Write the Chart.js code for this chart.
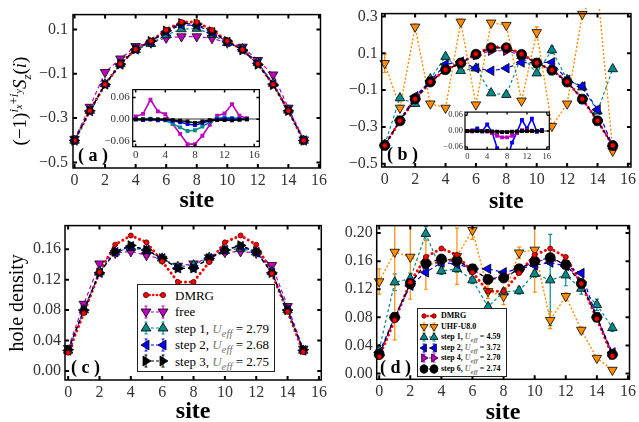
<!DOCTYPE html>
<html>
<head>
<meta charset="utf-8">
<script src="https://cdn.jsdelivr.net/npm/chart.js@4.4.0/dist/chart.umd.min.js"></script>
<style>
body { margin: 0; background: #fff; width: 639px; height: 422px; overflow: hidden; position: relative; font-family: "Liberation Serif", serif; }
canvas { position: absolute; }
.txt { position: absolute; white-space: nowrap; line-height: 1; color: #000; }
.leg { position: absolute; background: #fff; border: 1px solid #222; box-sizing: border-box; }
.row { position: absolute; left: 0; white-space: nowrap; line-height: 1; }
.row svg { position: absolute; left: 0; }
.row span { position: absolute; }
.row i { color: #777; }
</style>
</head>
<body>
<canvas id="cA" width="330" height="212" style="left:0;top:0"></canvas>
<canvas id="cB" width="319" height="212" style="left:320px;top:0"></canvas>
<canvas id="cC" width="330" height="210" style="left:0;top:212px"></canvas>
<canvas id="cD" width="319" height="210" style="left:320px;top:212px"></canvas>
<canvas id="iA" width="170" height="80" style="left:95px;top:80px"></canvas>
<canvas id="iB" width="125" height="55" style="left:430px;top:105px"></canvas>

<div class="txt" style="left:20px;top:101px;font-size:19px;transform:translate(-50%,-50%) rotate(-90deg)">(−1)<sup style="font-size:13px"><i>i</i><sub style="font-size:10px"><i>x</i></sub>+<i>i</i><sub style="font-size:10px"><i>y</i></sub></sup><i>S</i><sub style="font-size:13px"><i>z</i></sub>(<i>i</i>)</div>
<div class="txt" style="left:78px;top:146px;font-size:18px;font-weight:bold">( a )</div>
<div class="txt" style="left:387px;top:145px;font-size:18px;font-weight:bold">( b )</div>
<div class="txt" style="left:71px;top:358px;font-size:18px;font-weight:bold">( c )</div>
<div class="txt" style="left:380px;top:358px;font-size:18px;font-weight:bold">( d )</div>
<div class="leg" id="legC" style="left:137px;top:284px;width:138px;height:88px"></div>
<div class="leg" id="legD" style="left:417px;top:308px;width:90px;height:69px"></div>

<script>
// site index along the ladder
const sites = [0, 1, 2, 3, 4, 5, 6, 7, 8, 9, 10, 11, 12, 13, 14, 15];

// tick labels
const siteTicks = [0, 2, 4, 6, 8, 10, 12, 14, 16];
const insetTicks = [0, 4, 8, 12, 16];
const aTicks = [-0.5, -0.3, -0.1, 0.1];
const bTicks = [-0.5, -0.3, -0.1, 0.1, 0.3];
const cTicks = [0, 0.04, 0.08, 0.12, 0.16];
const dTicks = [0, 0.04, 0.08, 0.12, 0.16, 0.20];
const insetYTicks = [-0.06, 0, 0.06];

// (a) staggered magnetization
const aDMRG  = [-0.401, -0.267, -0.148, -0.055, 0.011, 0.048, 0.097, 0.134, 0.134, 0.097, 0.048, 0.009, -0.055, -0.148, -0.267, -0.401];
const aFree  = [-0.395, -0.250, -0.093, -0.032, 0.024, 0.040, 0.062, 0.068, 0.068, 0.060, 0.040, 0.021, -0.039, -0.104, -0.254, -0.397];
const aStep1 = [-0.401, -0.266, -0.146, -0.055, 0.008, 0.036, 0.075, 0.102, 0.104, 0.077, 0.040, 0.012, -0.050, -0.144, -0.265, -0.401];
const aStep2 = [-0.401, -0.268, -0.148, -0.058, 0.010, 0.044, 0.090, 0.121, 0.118, 0.087, 0.044, 0.009, -0.053, -0.147, -0.267, -0.401];
const aStep3 = [-0.401, -0.267, -0.148, -0.056, 0.011, 0.047, 0.094, 0.128, 0.124, 0.091, 0.047, 0.007, -0.058, -0.150, -0.267, -0.401];
// (a) inset: difference to DMRG
const iaFree  = [0.008, 0.015, 0.054, 0.022, 0.014, -0.013, -0.040, -0.068, -0.068, -0.045, -0.015, 0.010, 0.016, 0.042, 0.010, 0.003];
const iaStep1 = [0.000, 0.001, 0.002, 0.000, -0.003, -0.012, -0.022, -0.032, -0.030, -0.020, -0.008, 0.003, 0.005, 0.004, 0.002, 0.000];
const iaStep2 = [0.000, -0.002, 0.000, -0.003, -0.001, -0.004, -0.008, -0.013, -0.016, -0.010, -0.004, 0.000, 0.002, 0.001, 0.000, 0.001];
const iaStep3 = [0.000, 0.000, 0.000, 0.000, 0.000, -0.002, -0.004, -0.006, -0.010, -0.006, -0.002, -0.002, -0.002, -0.003, -0.001, 0.000];

// (b) staggered magnetization, UHF start
const bDMRG  = [-0.401, -0.267, -0.148, -0.055, 0.011, 0.048, 0.097, 0.134, 0.134, 0.097, 0.048, 0.009, -0.055, -0.148, -0.267, -0.401];
const bUHF   = [0.046, -0.197, 0.244, -0.174, -0.197, 0.271, -0.179, 0.266, 0.253, -0.158, 0.214, -0.296, -0.174, 0.313, 0.450, -0.431];
const bUHFerr = [0.05, 0.015, 0.015, 0.01, 0.01, 0.015, 0.01, 0.01, 0.01, 0.01, 0.03, 0.01, 0.01, 0.01, 0.01, 0.01];
const bStep1 = [-0.395, -0.143, -0.174, -0.039, 0.082, 0.005, 0.019, -0.116, -0.125, 0.086, -0.008, 0.118, -0.044, -0.084, -0.215, 0.015];
const bStep1err = [0.005, 0.01, 0.005, 0.005, 0.005, 0.005, 0.005, 0.005, 0.005, 0.005, 0.005, 0.02, 0.005, 0.005, 0.005, 0.005];
const bStep2 = [-0.400, -0.264, -0.134, -0.050, 0.040, 0.055, 0.019, 0.005, 0.019, 0.050, 0.050, 0.051, -0.044, -0.080, -0.206, -0.405];
const bStep4 = [-0.401, -0.265, -0.148, -0.055, 0.011, 0.045, 0.090, 0.114, 0.114, 0.090, 0.046, 0.008, -0.053, -0.147, -0.266, -0.401];
const bStep6 = [-0.401, -0.267, -0.148, -0.056, 0.011, 0.047, 0.095, 0.130, 0.130, 0.094, 0.047, 0.008, -0.056, -0.149, -0.267, -0.401];
// (b) inset
const ibStep2 = [0.000, 0.002, 0.010, -0.001, 0.025, -0.005, -0.065, -0.125, -0.115, -0.044, -0.004, 0.042, 0.010, 0.047, -0.003, 0.004];
const ibStep4 = [0.000, 0.000, 0.000, 0.000, -0.002, -0.008, -0.018, -0.024, -0.024, -0.018, -0.008, 0.003, 0.002, 0.001, 0.000, 0.000];
const ibStep6 = [0.000, -0.001, 0.000, -0.001, 0.000, -0.002, -0.003, -0.004, -0.004, -0.003, -0.002, 0.000, 0.000, 0.000, 0.000, 0.000];

// (c) hole density
const cDMRG  = [0.024, 0.076, 0.130, 0.166, 0.178, 0.169, 0.144, 0.117, 0.117, 0.143, 0.169, 0.178, 0.166, 0.128, 0.078, 0.025];
const cFree  = [0.030, 0.088, 0.141, 0.155, 0.157, 0.152, 0.147, 0.138, 0.141, 0.149, 0.156, 0.157, 0.155, 0.139, 0.085, 0.029];
const cStep1 = [0.027, 0.080, 0.130, 0.156, 0.162, 0.158, 0.148, 0.137, 0.139, 0.149, 0.158, 0.161, 0.156, 0.130, 0.080, 0.027];
const cStep2 = [0.027, 0.080, 0.129, 0.156, 0.164, 0.159, 0.148, 0.135, 0.135, 0.148, 0.159, 0.164, 0.156, 0.129, 0.080, 0.027];
const cStep3 = [0.028, 0.080, 0.129, 0.157, 0.165, 0.159, 0.148, 0.135, 0.135, 0.148, 0.159, 0.165, 0.157, 0.129, 0.080, 0.028];

// (d) hole density, UHF start
const dDMRG  = [0.024, 0.076, 0.130, 0.166, 0.178, 0.169, 0.144, 0.117, 0.117, 0.143, 0.169, 0.178, 0.166, 0.128, 0.078, 0.025];
const dUHF   = [0.131, 0.173, 0.166, 0.155, 0.158, 0.167, 0.204, 0.117, 0.110, 0.172, 0.176, 0.076, 0.110, 0.062, 0.022, 0.005];
const dUHFerr = [0.018, 0.125, 0.06, 0.035, 0.01, 0.04, 0.013, 0.01, 0.012, 0.008, 0.06, 0.012, 0.005, 0.004, 0.003, 0.003];
const dStep1 = [0.034, 0.130, 0.135, 0.199, 0.146, 0.149, 0.133, 0.095, 0.116, 0.118, 0.142, 0.133, 0.140, 0.121, 0.098, 0.065];
const dStep1err = [0.005, 0.012, 0.008, 0.01, 0.005, 0.005, 0.005, 0.005, 0.005, 0.005, 0.005, 0.065, 0.015, 0.008, 0.008, 0.005];
const dStep2 = [0.030, 0.080, 0.125, 0.144, 0.158, 0.156, 0.149, 0.149, 0.144, 0.149, 0.154, 0.158, 0.153, 0.143, 0.080, 0.030];
const dStep4 = [0.026, 0.080, 0.128, 0.155, 0.160, 0.160, 0.148, 0.135, 0.138, 0.148, 0.160, 0.162, 0.156, 0.130, 0.080, 0.027];
const dStep6 = [0.027, 0.080, 0.128, 0.157, 0.163, 0.161, 0.149, 0.134, 0.136, 0.149, 0.160, 0.165, 0.155, 0.128, 0.080, 0.027];

// legend texts
const legCNames = ['DMRG', 'free', 'step 1, <i>U<sub>eff</sub></i> = 2.79', 'step 2, <i>U<sub>eff</sub></i> = 2.68', 'step 3, <i>U<sub>eff</sub></i> = 2.75'];
const legDNames = ['DMRG', 'UHF-U8.0', 'step 1, <i>U<sub>eff</sub></i> = 4.59', 'step 2, <i>U<sub>eff</sub></i> = 3.72', 'step 4, <i>U<sub>eff</sub></i> = 2.70', 'step 6, <i>U<sub>eff</sub></i> = 2.74'];

Chart.defaults.font.family = '"Liberation Serif", "DejaVu Serif", serif';
Chart.defaults.color = '#333';
Chart.defaults.animation = false;

const ST = {
  dmrg: { color: '#ff0000', edge: '#500000', shape: 'circle', rot: 0, r: 2.5, dash: [0.1, 4.6], lw: 3, cap: 'round', leg: 'circle' },
  free: { color: '#bf00bf', shape: 'triangle', rot: 180, r: 5.5, dash: [4, 3], lw: 1.2, leg: 'down' },
  s1:   { color: '#008b8b', shape: 'triangle', rot: 0, r: 5.5, dash: [3, 2.5], lw: 1.2, leg: 'up' },
  s2:   { color: '#0000ff', shape: 'triangle', rot: -90, r: 5.5, dash: [4, 3], lw: 1.2, leg: 'left' },
  s3:   { color: '#000000', shape: 'triangle', rot: 90, r: 5.5, dash: [4, 3], lw: 1.2, leg: 'right' },
  uhf:  { color: '#ff8c00', shape: 'triangle', rot: 180, r: 5.5, dash: [2, 2], lw: 1.4, leg: 'down' },
  s4:   { color: '#bf00bf', shape: 'triangle', rot: 90, r: 5.5, dash: [4, 3], lw: 1.2, leg: 'right' },
  s6:   { color: '#000000', shape: 'circle', rot: 0, r: 5, dash: [4, 3], lw: 1.2, leg: 'circle' }
};

function ds(vals, st, errs) {
  return {
    data: sites.map((s, i) => ({ x: s, y: vals[i] })),
    errs: errs || null,
    borderColor: st.color,
    backgroundColor: st.color,
    pointBackgroundColor: st.color,
    pointBorderColor: st.edge || '#000',
    pointBorderWidth: 0.8,
    pointStyle: st.shape,
    pointRotation: st.rot,
    pointRadius: st.r,
    borderDash: st.dash,
    borderWidth: st.lw,
    borderCapStyle: st.cap || 'butt',
    clip: 6
  };
}

// DMRG: line underneath everything, dots on top
function dmrgLine(vals) {
  return Object.assign(ds(vals, ST.dmrg), { pointRadius: 0 });
}
function dmrgDots(vals) {
  return Object.assign(ds(vals, ST.dmrg), { showLine: false });
}

function insetDs(vals, color) {
  return {
    data: sites.map((s, i) => ({ x: s, y: vals[i] })),
    borderColor: color,
    backgroundColor: color,
    pointBackgroundColor: color,
    pointBorderColor: color,
    pointStyle: 'rect',
    pointRadius: 1.6,
    borderWidth: 1.6,
    clip: 0
  };
}

// error bars, drawn under the markers
const errorBars = {
  id: 'errorBars',
  beforeDatasetsDraw(chart) {
    const { ctx, chartArea: a, scales: { x, y } } = chart;
    ctx.save();
    ctx.beginPath();
    ctx.rect(a.left, a.top, a.right - a.left, a.bottom - a.top);
    ctx.clip();
    chart.data.datasets.forEach(d => {
      if (!d.errs) return;
      ctx.strokeStyle = d.borderColor;
      ctx.lineWidth = 1.2;
      d.data.forEach((p, i) => {
        const e = d.errs[i];
        if (!e) return;
        const px = x.getPixelForValue(p.x);
        const y1 = y.getPixelForValue(p.y - e), y2 = y.getPixelForValue(p.y + e);
        ctx.beginPath();
        ctx.moveTo(px, y1); ctx.lineTo(px, y2);
        ctx.moveTo(px - 2, y1); ctx.lineTo(px + 2, y1);
        ctx.moveTo(px - 2, y2); ctx.lineTo(px + 2, y2);
        ctx.stroke();
      });
    });
    ctx.restore();
  }
};

// boxed frame with inward ticks on all four sides
const frame = {
  id: 'frame',
  beforeDraw(chart, args, o) {
    if (!o.fill) return;
    const { ctx, chartArea: a } = chart;
    ctx.save();
    ctx.fillStyle = '#fff';
    ctx.fillRect(a.left, a.top, a.right - a.left, a.bottom - a.top);
    ctx.restore();
  },
  afterDatasetsDraw(chart, args, o) {
    const { ctx, chartArea: a, scales: { x, y } } = chart;
    const len = o.len || 4;
    ctx.save();
    ctx.strokeStyle = '#000';
    ctx.lineWidth = o.tw || 2;
    ctx.beginPath();
    x.ticks.forEach(t => {
      const px = x.getPixelForValue(t.value);
      ctx.moveTo(px, a.bottom); ctx.lineTo(px, a.bottom - len);
      ctx.moveTo(px, a.top); ctx.lineTo(px, a.top + len);
    });
    y.ticks.forEach(t => {
      const py = y.getPixelForValue(t.value);
      ctx.moveTo(a.left, py); ctx.lineTo(a.left + len, py);
      ctx.moveTo(a.right, py); ctx.lineTo(a.right - len, py);
    });
    ctx.stroke();
    ctx.lineWidth = o.lw || 1.5;
    ctx.strokeRect(a.left, a.top, a.right - a.left, a.bottom - a.top);
    ctx.restore();
  }
};

function fmt(v, dec) {
  return (v < 0 ? '−' : '') + Math.abs(v).toFixed(dec);
}

function makeChart(id, sets, o) {
  const cv = document.getElementById(id);
  const W = cv.width, H = cv.height, b = o.box;
  return new Chart(cv, {
    type: 'line',
    data: { datasets: sets },
    plugins: [errorBars, frame],
    options: {
      responsive: false,
      layout: { padding: { top: b.T, right: W - b.R, left: 0, bottom: 0 } },
      plugins: {
        legend: { display: false },
        tooltip: { enabled: false },
        frame: { len: o.tick || 4, tw: o.tw || 2, lw: o.lw || 1.5, fill: !!o.fill }
      },
      scales: {
        x: {
          type: 'linear', min: o.x[0], max: o.x[1],
          afterBuildTicks: s => { s.ticks = o.xt.map(v => ({ value: v })); },
          afterFit: s => { s.height = H - b.B; },
          grid: { display: false, drawTicks: false, tickLength: 0 },
          border: { display: false },
          ticks: { font: { size: o.fs }, padding: o.xpad, maxRotation: 0, color: '#333', callback: v => String(v) },
          title: o.xtitle
            ? { display: true, text: o.xtitle, color: '#000', font: { size: 24, weight: 'bold', lineHeight: 1 }, padding: { top: 0, bottom: o.tpad } }
            : { display: false }
        },
        y: {
          type: 'linear', min: o.y[0], max: o.y[1],
          afterBuildTicks: s => { s.ticks = o.yt.map(v => ({ value: v })); },
          afterFit: s => { s.width = b.L; },
          grid: o.zero
            ? { drawTicks: false, tickLength: 0, lineWidth: 2, color: c => (c.tick && c.tick.value === 0 ? '#9a9a9a' : 'rgba(0,0,0,0)') }
            : { display: false, drawTicks: false, tickLength: 0 },
          border: { display: false },
          ticks: { font: { size: o.fs }, padding: o.ypad, color: '#333', callback: v => fmt(v, o.dec) },
          title: o.ytitle
            ? { display: true, text: o.ytitle, color: '#000', font: { size: 20, lineHeight: 1 }, padding: { top: 8, bottom: 0 } }
            : { display: false }
        }
      }
    }
  });
}

makeChart('cA', [dmrgDots(aDMRG), ds(aStep3, ST.s3), ds(aStep2, ST.s2), ds(aStep1, ST.s1), ds(aFree, ST.free), dmrgLine(aDMRG)], {
  box: { L: 73, T: 13, R: 322, B: 168 }, x: [-0.1, 16.1], xt: siteTicks, y: [-0.525, 0.167], yt: aTicks, dec: 1,
  fs: 16, xpad: 3, ypad: 5, xtitle: 'site', tpad: -1
});
makeChart('cB', [dmrgDots(bDMRG), ds(bStep6, ST.s6), ds(bStep4, ST.s4), ds(bStep2, ST.s2), ds(bStep1, ST.s1, bStep1err), ds(bUHF, ST.uhf, bUHFerr), dmrgLine(bDMRG)], {
  box: { L: 61.7, T: 12.7, R: 315, B: 167 }, x: [-0.2, 16.2], xt: siteTicks, y: [-0.518, 0.316], yt: bTicks, dec: 1,
  fs: 16, xpad: 3, ypad: 4, xtitle: 'site', tpad: -2
});
makeChart('cC', [dmrgDots(cDMRG), ds(cStep3, ST.s3), ds(cStep2, ST.s2), ds(cStep1, ST.s1), ds(cFree, ST.free), dmrgLine(cDMRG)], {
  box: { L: 65, T: 8.7, R: 322, B: 168 }, x: [-0.2, 16.15], xt: siteTicks, y: [-0.0118, 0.191], yt: cTicks, dec: 2,
  fs: 16, xpad: 3, ypad: 4, xtitle: 'site', tpad: -2, ytitle: 'hole density'
});
makeChart('cD', [dmrgDots(dDMRG), ds(dStep6, ST.s6), ds(dStep4, ST.s4), ds(dStep2, ST.s2), ds(dStep1, ST.s1, dStep1err), ds(dUHF, ST.uhf, dUHFerr), dmrgLine(dDMRG)], {
  box: { L: 56.7, T: 8, R: 313.3, B: 167.3 }, x: [-0.16, 16.1], xt: siteTicks, y: [-0.0082, 0.2106], yt: dTicks, dec: 2,
  fs: 16, xpad: 3, ypad: 4, xtitle: 'site', tpad: -3
});
makeChart('iA', [insetDs(iaStep3, '#000000'), insetDs(iaStep2, '#0000ff'), insetDs(iaStep1, '#008b8b'), insetDs(iaFree, '#bf00bf')], {
  box: { L: 37.7, T: 4.7, R: 166.7, B: 66.7 }, x: [-0.4, 16.7], xt: insetTicks, y: [-0.0752, 0.0818], yt: insetYTicks, dec: 2,
  fs: 11, xpad: 2, ypad: 3, tick: 3, tw: 1.5, lw: 1.2, fill: true, zero: true
});
makeChart('iB', [insetDs(ibStep6, '#000000'), insetDs(ibStep4, '#bf00bf'), insetDs(ibStep2, '#0000ff')], {
  box: { L: 35, T: 6, R: 119.3, B: 44.3 }, x: [-0.46, 16.5], xt: insetTicks, y: [-0.0696, 0.072], yt: insetYTicks, dec: 2,
  fs: 8.5, xpad: 2, ypad: 2, tick: 2.5, tw: 1.3, lw: 1.2, fill: true, zero: true
});

// legends (html)
function markerSvg(shape, cx, cy, r, fill, edge) {
  if (shape === 'circle') {
    return `<circle cx="${cx}" cy="${cy}" r="${r}" fill="${fill}" stroke="${edge}" stroke-width="0.8"/>`;
  }
  const pts = {
    down: [[-1, -0.6], [1, -0.6], [0, 1]],
    up: [[-1, 0.6], [1, 0.6], [0, -1]],
    left: [[-1, 0], [0.6, -1], [0.6, 1]],
    right: [[1, 0], [-0.6, -1], [-0.6, 1]]
  }[shape];
  return `<polygon points="${pts.map(p => (cx + p[0] * r) + ',' + (cy + p[1] * r)).join(' ')}" fill="${fill}" stroke="${edge}" stroke-width="0.8"/>`;
}

function buildLegend(id, names, styles, g) {
  const box = document.getElementById(id);
  box.innerHTML = names.map((name, i) => {
    const st = styles[i];
    const cy = g.h / 2;
    const isDmrg = st === ST.dmrg;
    const r = isDmrg ? g.rs : g.r;
    let svg = `<line x1="${g.m1}" y1="${cy}" x2="${g.m2}" y2="${cy}" stroke="${st.color}" stroke-width="${isDmrg ? 2.5 : 1.2}" stroke-dasharray="${isDmrg ? '0.1 3.5' : '3 2'}" stroke-linecap="${isDmrg ? 'round' : 'butt'}"/>`;
    if (!isDmrg) {
      [g.m1, g.m2].forEach(mx => {
        svg += `<path d="M${mx} ${cy - g.eb}V${cy + g.eb}M${mx - 1.5} ${cy - g.eb}H${mx + 1.5}M${mx - 1.5} ${cy + g.eb}H${mx + 1.5}" stroke="${st.color}" stroke-width="1"/>`;
      });
    }
    svg += markerSvg(st.leg, g.m1, cy, r, st.color, st.edge || '#000') + markerSvg(st.leg, g.m2, cy, r, st.color, st.edge || '#000');
    return `<div class="row" style="top:${g.y0 + i * g.dy - g.h / 2}px;height:${g.h}px;width:100%">` +
      `<svg width="${g.tx}" height="${g.h}">${svg}</svg>` +
      `<span style="left:${g.tx}px;top:${(g.h - g.fs) / 2}px;font-size:${g.fs}px;font-weight:${g.fw}">${name}</span></div>`;
  }).join('');
}

buildLegend('legC', legCNames, [ST.dmrg, ST.free, ST.s1, ST.s2, ST.s3],
  { y0: 10, dy: 16.5, h: 14, m1: 8, m2: 25, tx: 37, r: 5, rs: 2.6, eb: 6, fs: 13, fw: 'normal' });
buildLegend('legD', legDNames, [ST.dmrg, ST.uhf, ST.s1, ST.s2, ST.s4, ST.s6],
  { y0: 7, dy: 10.6, h: 10, m1: 6, m2: 16, tx: 23, r: 4, rs: 2.2, eb: 4, fs: 8, fw: 'bold' });
</script>
</body>
</html>
